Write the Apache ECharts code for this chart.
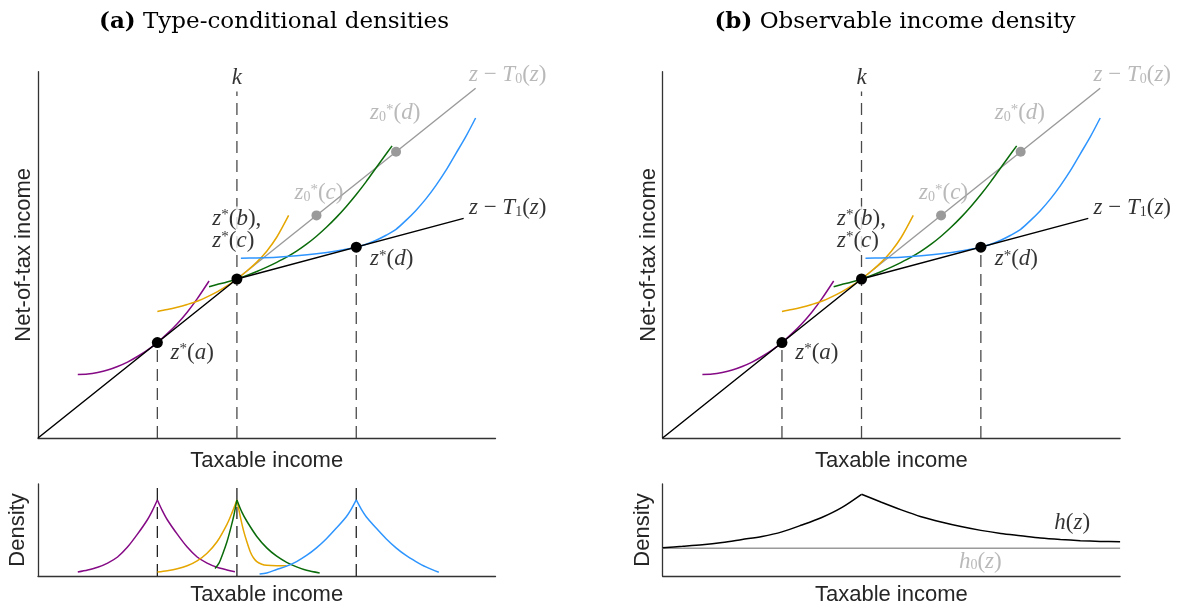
<!DOCTYPE html>
<html><head><meta charset="utf-8">
<script src="https://cdn.jsdelivr.net/npm/echarts@6/dist/echarts.min.js"></script>
<style>html,body{margin:0;padding:0;background:#fff}#c{width:1182px;height:612px}</style>
</head><body><div id="c"></div>
<script>
// ---------------- data ----------------
const mainXMax = 23, mainYMax = 18.43, densYMax = 1.21;
// budget lines
const taxLine1 = [[0,0],[10,8],[21.4,11.05]];          // z - T1(z)
const taxLine0 = [[10,8],[22,17.6]];                    // z - T0(z)
// indifference curves (types a, b, c, d)
const icA = [[2,3.2],[2.5,3.22],[3,3.3],[3.5,3.42],[4,3.6],[4.5,3.82],[5,4.1],[5.5,4.42],[6,4.8],[6.5,5.25],[7,5.75],[7.5,6.33],[8,7.0],[8.6,7.9]];
const icB = [[6,6.36],[6.5,6.46],[7,6.58],[7.5,6.72],[8,6.88],[8.5,7.1],[9,7.35],[9.5,7.65],[10,8.0],[10.5,8.4],[11,8.85],[11.5,9.4],[12,10.1],[12.6,11.2]];
const icC = [[8.6,7.61],[9,7.72],[9.5,7.85],[10,8.0],[10.5,8.18],[11,8.38],[11.5,8.6],[12,8.84],[12.5,9.1],[13,9.4],[13.5,9.75],[14,10.15],[14.5,10.6],[15,11.1],[15.5,11.65],[16,12.25],[16.5,12.9],[17,13.6],[17.4,14.15],[17.8,14.7]];
const icD = [[10.2,9.04],[11,9.06],[12,9.1],[13,9.17],[14,9.27],[15,9.41],[16,9.6],[16.5,9.75],[17,9.95],[17.5,10.2],[18,10.5],[18.5,10.95],[19,11.45],[19.5,12.03],[20,12.7],[20.5,13.45],[21,14.3],[21.5,15.15],[22,16.1]];
// optimal points
const optimaT1 = [[6,4.8],[10,8],[16,9.6]];
const optimaT0 = [[14,11.2],[18,14.4]];
// dashed guides: [x, top]
const guideTops = [[6,4.8],[10,17.43],[16,9.6]];
const densGuideX = [6,10,16];
// type-conditional densities
const densA = [[2.0,0.054],[2.5,0.08],[3.0,0.115],[3.5,0.17],[4.0,0.25],[4.5,0.38],[5.0,0.55],[5.5,0.74],[5.75,0.86],[6.0,1.0],[6.25,0.86],[6.5,0.74],[7.0,0.55],[7.5,0.38],[8.0,0.25],[8.5,0.17],[9.0,0.115],[9.5,0.08],[9.9,0.057]];
const densB = [[6.0,0.053],[6.5,0.07],[7.0,0.095],[7.5,0.135],[8.0,0.2],[8.5,0.3],[9.0,0.45],[9.5,0.68],[9.75,0.83],[10,1.0],[10.17,0.78],[10.33,0.6],[10.5,0.45],[10.67,0.32],[10.83,0.24],[11.0,0.19],[11.25,0.155],[11.5,0.14],[12.0,0.135],[12.5,0.135]];
const densC = [[8.9,0.1],[9.1,0.17],[9.3,0.3],[9.5,0.45],[9.7,0.64],[9.85,0.8],[10,1.0],[10.25,0.84],[10.5,0.72],[11,0.52],[11.5,0.37],[12,0.26],[12.5,0.18],[13,0.12],[13.5,0.075],[14.16,0.04]];
const densD = [[11.14,0.025],[11.5,0.04],[12,0.085],[12.5,0.13],[13,0.19],[13.5,0.27],[14,0.37],[14.5,0.49],[15,0.63],[15.5,0.78],[15.75,0.88],[16,1.0],[16.25,0.88],[16.5,0.78],[17,0.63],[17.5,0.49],[18,0.37],[18.5,0.27],[19,0.19],[19.5,0.12],[20.15,0.05]];
// observable density
const hObs = [[0,0.372],[1,0.39],[2,0.41],[3,0.44],[4,0.48],[5,0.52],[6,0.58],[7,0.67],[8,0.77],[9,0.9],[10,1.075],[11,0.97],[12,0.87],[13,0.78],[14,0.71],[15,0.65],[16,0.6],[17,0.56],[18,0.53],[19,0.5],[20,0.48],[21,0.465],[22,0.455],[23,0.45]];
const h0Obs = [[0,0.365],[23,0.365]];
// text
const titles = ['(a)', 'Type-conditional densities', '(b)', 'Observable income density'];
const axisNames = {x:'Taxable income', y:'Net-of-tax income', d:'Density'};
const mainAnnotations = [
  {at:[10,18.12], text:'{i|k}', center:true, gray:false},
  {at:[21.64,18.27], text:'{i|z}{n| − }{i|T}{sub|0}{n|(}{i|z}{n|)}', gray:true},
  {at:[21.64,11.58], text:'{i|z}{n| − }{i|T}{sub|1}{n|(}{i|z}{n|)}', gray:false},
  {at:[16.67,16.34], text:'{i|z}{sub|0}{sup|*}{n|(}{i|d}{n|)}', gray:true},
  {at:[12.87,12.31], text:'{i|z}{sub|0}{sup|*}{n|(}{i|c}{n|)}', gray:true},
  {at:[8.74,10.49], text:'{i|z}{sup|*}{n|(}{i|b}{n|),}\n{i|z}{sup|*}{n|(}{i|c}{n|)}', gray:false, mask:true},
  {at:[16.67,9.0], text:'{i|z}{sup|*}{n|(}{i|d}{n|)}', gray:false},
  {at:[6.64,4.29], text:'{i|z}{sup|*}{n|(}{i|a}{n|)}', gray:false}
];
const densAnnotations = [
  {at:[20.59,0.693], text:'{i|h}{n|(}{i|z}{n|)}', center:true, gray:false},
  {at:[15.97,0.188], text:'{i|h}{sub|0}{n|(}{i|z}{n|)}', center:true, gray:true}
];

// ---------------- styling ----------------
const COL = {purple:'#850A85', yellow:'#E6A600', green:'#0A6B0A', blue:'#2E95FF', gray:'#9A9A9A', grayText:'#A8A8A8', axis:'#333333', guide:'#4A4A4A', text:'#262626'};
const SERIF = '"Liberation Serif", "DejaVu Serif", serif';
const TSERIF = '"DejaVu Serif", "Liberation Serif", serif';
const SANS = '"Liberation Sans", Arial, sans-serif';
const rich = {
  i: {fontFamily:SERIF, fontStyle:'italic', fontSize:23, lineHeight:22},
  n: {fontFamily:SERIF, fontSize:23, lineHeight:22},
  sup:{fontFamily:SERIF, fontSize:15, lineHeight:12, verticalAlign:'top'},
  sub:{fontFamily:SERIF, fontSize:14, lineHeight:12, verticalAlign:'bottom'}
};

const grids = [
  {left:38, top:71.7, width:457.5, height:366.3},
  {left:38, top:484, width:457.5, height:92},
  {left:662.6, top:71.7, width:457.5, height:366.3},
  {left:662.6, top:484, width:457.5, height:92}
];
const nameStyle = {fontFamily:SANS, fontSize:22, color:COL.text};
function xAx(gi, gap){
  return {type:'value', gridIndex:gi, min:0, max:mainXMax, axisLine:{show:true, onZero:false, lineStyle:{color:COL.axis, width:1.3}},
    axisTick:{show:false}, axisLabel:{show:false}, splitLine:{show:false},
    name:axisNames.x, nameLocation:'middle', nameGap:gap, nameTextStyle:nameStyle};
}
function yAx(gi, max, name, gap){
  return {type:'value', gridIndex:gi, min:0, max:max, axisLine:{show:true, onZero:false, lineStyle:{color:COL.axis, width:1.3}},
    axisTick:{show:false}, axisLabel:{show:false}, splitLine:{show:false},
    name:name, nameLocation:'middle', nameGap:gap, nameTextStyle:nameStyle};
}
function line(ax, data, color, width, z, extra){
  return Object.assign({type:'line', xAxisIndex:ax, yAxisIndex:ax, data:data, symbol:'none', showSymbol:false, silent:true,
    lineStyle:{color:color, width:width}, z:z, animation:false}, extra||{});
}
function splitAtPeak(arr){
  let m = 0; arr.forEach((p,i)=>{ if(p[1] > arr[m][1]) m = i; });
  return [arr.slice(0,m+1), arr.slice(m)];
}
function labelSeries(ax, list){
  return {type:'scatter', xAxisIndex:ax, yAxisIndex:ax, symbolSize:1, silent:true, z:10, animation:false,
    itemStyle:{color:'rgba(0,0,0,0)'},
    data:list.map(a=>({value:a.at, label:Object.assign({show:true, formatter:a.text, position:a.center?'inside':'right', distance:0,
      color:a.gray?COL.grayText:'#000', rich:rich, fontFamily:SERIF, fontSize:23},
      a.mask?{backgroundColor:'#fff', padding:[1,2,1,0]}:{})}))};
}
function mainSeries(ax){
  const s = [];
  guideTops.forEach(g=>s.push(line(ax, [[g[0],0],[g[0],g[1]]], COL.guide, 1.3, 1, {lineStyle:{color:COL.guide, width:1.3, type:[12,7]}})));
  s.push(line(ax, taxLine0, COL.gray, 1.4, 2));
  s.push(line(ax, icA, COL.purple, 1.5, 3, {smooth:0.3}));
  s.push(line(ax, icB, COL.yellow, 1.5, 3, {smooth:0.3}));
  s.push(line(ax, icC, COL.green, 1.5, 3, {smooth:0.3}));
  s.push(line(ax, icD, COL.blue, 1.5, 3, {smooth:0.3}));
  s.push(line(ax, taxLine1, '#000', 1.5, 4));
  s.push({type:'scatter', xAxisIndex:ax, yAxisIndex:ax, data:optimaT1, symbolSize:11, itemStyle:{color:'#000', opacity:1}, z:5, silent:true, animation:false});
  s.push({type:'scatter', xAxisIndex:ax, yAxisIndex:ax, data:optimaT0, symbolSize:10, itemStyle:{color:COL.gray, opacity:1}, z:5, silent:true, animation:false});
  s.push(labelSeries(ax, mainAnnotations));
  return s;
}
const series = [];
series.push(...mainSeries(0));
series.push(...mainSeries(2));
// panel (a) densities
densGuideX.forEach(x=>series.push(line(1, [[x,0],[x,densYMax]], '#222', 1.3, 1, {lineStyle:{color:'#222', width:1.3, type:[12,7]}})));
[[densA,COL.purple],[densB,COL.yellow],[densC,COL.green],[densD,COL.blue]].forEach(([d,c])=>{
  splitAtPeak(d).forEach(part=>series.push(line(1, part, c, 1.5, 3, {smooth:0.3})));
});
// panel (b) density
series.push(line(3, h0Obs, COL.gray, 1.4, 2));
splitAtPeak(hObs).forEach(part=>series.push(line(3, part, '#000', 1.5, 3, {smooth:0.3})));
series.push(labelSeries(3, densAnnotations));

const titleRich = {b:{fontFamily:TSERIF, fontWeight:'bold', fontSize:23, fill:'#000'}};
const option = {
  backgroundColor:'#fff',
  animation:false,
  grid: grids.map(g=>Object.assign({containLabel:false, outerBoundsMode:'none'}, g)),
  xAxis:[xAx(0,12), xAx(1,8), xAx(2,12), xAx(3,8)],
  yAxis:[yAx(0,mainYMax,axisNames.y,3), yAx(1,densYMax,axisNames.d,9), yAx(2,mainYMax,axisNames.y,3), yAx(3,densYMax,axisNames.d,9)],
  series: series,
  graphic:[
    {type:'text', x:274, y:22, silent:true, style:{text:'{b|'+titles[0]+'} '+titles[1], align:'center', verticalAlign:'middle', fontFamily:TSERIF, fontSize:23, fill:'#000', rich:titleRich}},
    {type:'text', x:895, y:22, silent:true, style:{text:'{b|'+titles[2]+'} '+titles[3], align:'center', verticalAlign:'middle', fontFamily:TSERIF, fontSize:23, fill:'#000', rich:titleRich}}
  ]
};
const chart = echarts.init(document.getElementById('c'), null, {renderer:'canvas'});
chart.setOption(option);
</script>
</body></html>
